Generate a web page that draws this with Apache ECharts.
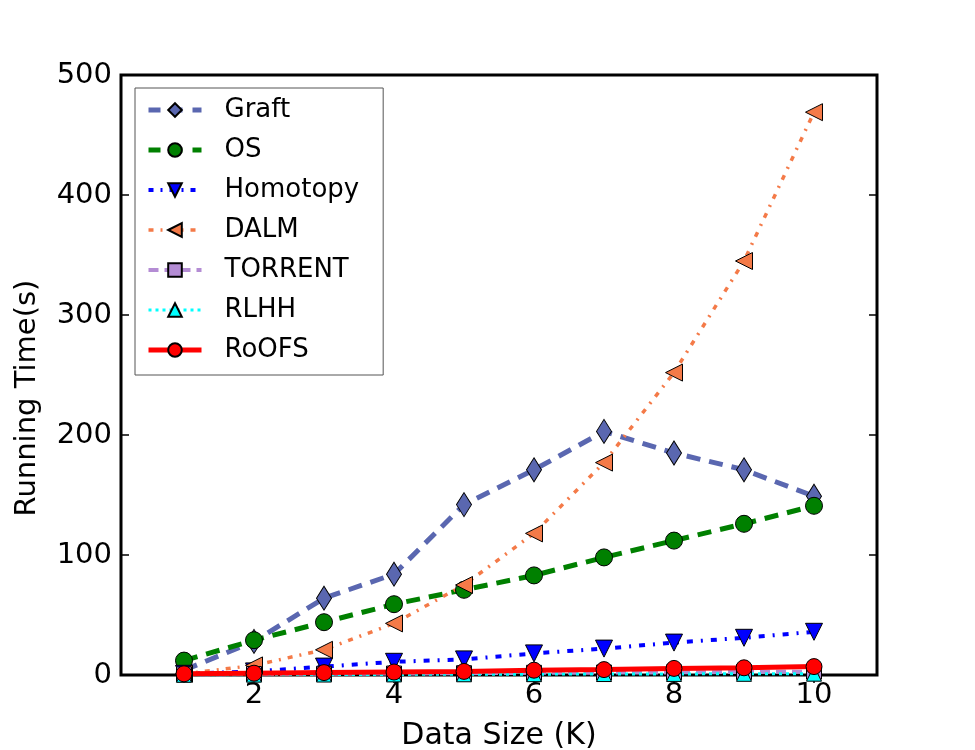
<!DOCTYPE html>
<html>
<head>
<meta charset="utf-8">
<script src="https://cdn.jsdelivr.net/npm/echarts@6/dist/echarts.min.js"></script>
<style>
  html, body { margin: 0; padding: 0; background: #fff; }
  #chart { width: 975px; height: 750px; }
</style>
</head>
<body>
<div id="chart"></div>
<script>
const sizes = [1, 2, 3, 4, 5, 6, 7, 8, 9, 10];
const xTicks = [2, 4, 6, 8, 10];

const graft = [4, 28, 64, 84, 142, 171, 203, 185, 171, 149];
const os = [12, 29, 44, 59, 71, 83, 98, 112, 126, 141];
const homotopy = [1, 3, 7, 11, 13, 18, 22, 27, 31, 36];
const dalm = [1, 8, 21, 43, 75, 118, 177, 252, 345, 469];
const torrent = [0.5, 0.8, 1, 1.2, 1.5, 1.8, 2, 2.2, 2.5, 2.8];
const rlhh = [0.2, 0.3, 0.4, 0.5, 0.6, 0.7, 0.8, 0.9, 1, 1.1];
const roofs = [1, 1.5, 2, 2.5, 3, 4, 4.5, 5.5, 6, 7];

const FONT = "DejaVu Sans";
const pairs = (ys) => sizes.map((x, i) => [x, ys[i]]);

function line(name, ys, color, symbol, size, width, dash, rotate) {
  return {
    name, type: "line", data: pairs(ys),
    symbol, symbolSize: size, symbolRotate: rotate || 0,
    itemStyle: { color, borderColor: "#000", borderWidth: 1 },
    lineStyle: { color, width, type: dash },
    emphasis: { disabled: true },
    z: 3,
  };
}

const chart = echarts.init(document.getElementById("chart"), null, { renderer: "canvas" });

const tickOpts = { show: true, inside: true, length: 8, lineStyle: { color: "#000", width: 1.5 } };
// legend handles: thicker strokes like the plotted lines
const legendItem = (name, width, type) => ({ name, lineStyle: { width, type } });

chart.setOption({
  animation: false,
  backgroundColor: "#fff",
  textStyle: { fontFamily: FONT },
  grid: {
    left: 121, right: 98, top: 75, bottom: 75, outerBoundsMode: "none",
    show: true, borderColor: "#000", borderWidth: 3, backgroundColor: "transparent",
  },
  legend: {
    orient: "vertical", left: 135, top: 88,
    padding: [9, 24, 12, 11], itemGap: 14, itemWidth: 53, itemHeight: 17,
    borderColor: "#555", borderWidth: 1, backgroundColor: "#fff",
    textStyle: { fontFamily: FONT, fontSize: 26, color: "#000", padding: [0, 0, 0, 18] },
    data: [
      legendItem("Graft", 5, [12, 10]),
      legendItem("OS", 5, [12, 10]),
      legendItem("Homotopy", 4, [5, 7, 2, 7]),
      legendItem("DALM", 3.5, [5, 7, 2, 7]),
      legendItem("TORRENT", 4, [10, 6]),
      legendItem("RLHH", 3, [3, 4]),
      legendItem("RoOFS", 5, "solid"),
    ],
  },
  graphic: [{
    type: "text", x: 27, y: 398, rotation: Math.PI / 2,
    style: { text: "Running Time(s)", fontFamily: FONT, fontSize: 29, fill: "#000", align: "center", verticalAlign: "middle" },
  }],
  xAxis: [
    {
      type: "value", min: 0.1, max: 10.9,
      name: "Data Size (K)", nameLocation: "middle", nameGap: 46,
      nameTextStyle: { fontFamily: FONT, fontSize: 30, color: "#000" },
      axisLine: { show: false },
      axisTick: { ...tickOpts, customValues: xTicks },
      axisLabel: { fontFamily: FONT, fontSize: 29, color: "#000", margin: 6, customValues: xTicks },
      splitLine: { show: false },
    },
    {
      type: "value", min: 0.1, max: 10.9, position: "top",
      axisLine: { show: false },
      axisTick: { ...tickOpts, customValues: xTicks },
      axisLabel: { show: false },
      splitLine: { show: false },
    },
  ],
  yAxis: [
    {
      type: "value", min: 0, max: 500, interval: 100,
      axisLine: { show: false },
      axisTick: tickOpts,
      axisLabel: { fontFamily: FONT, fontSize: 29, color: "#000", margin: 9 },
      splitLine: { show: false },
    },
    {
      type: "value", min: 0, max: 500, interval: 100, position: "right",
      axisLine: { show: false },
      axisTick: tickOpts,
      axisLabel: { show: false },
      splitLine: { show: false },
    },
  ],
  series: [
    line("Graft", graft, "#5a67b0", "diamond", [15, 24], 5, [14, 9]),
    line("OS", os, "#008000", "circle", 17, 5, [14, 9]),
    line("Homotopy", homotopy, "#0000ff", "triangle", 17, 4, [6, 8, 2, 8], 180),
    line("DALM", dalm, "#f47a48", "triangle", 17, 3.5, [5, 7, 2, 7], 90),
    line("TORRENT", torrent, "#b48cd4", "rect", 15, 4, [10, 6]),
    line("RLHH", rlhh, "#00ffff", "triangle", 15, 3, [3, 4]),
    line("RoOFS", roofs, "#ff0000", "circle", 16, 5, "solid"),
  ],
});
</script>
</body>
</html>
